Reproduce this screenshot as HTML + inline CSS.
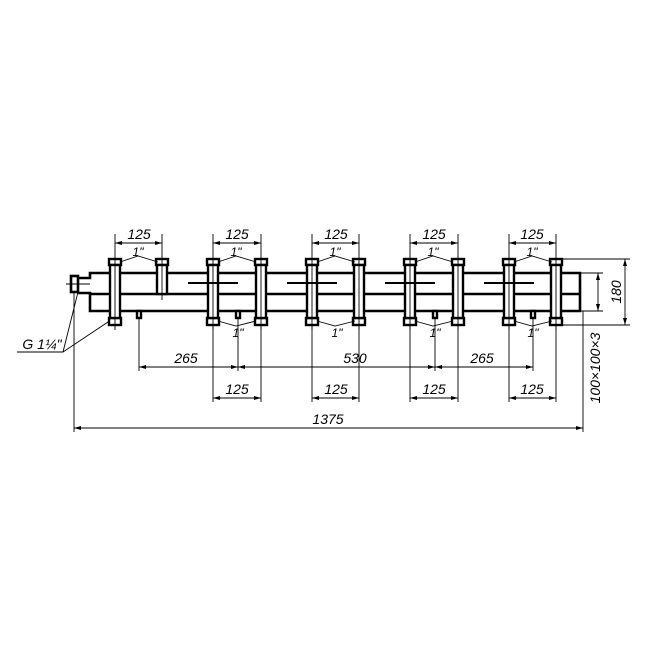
<!DOCTYPE html>
<html><head><style>html,body{margin:0;padding:0;background:#fff}svg{display:block}</style></head><body>
<svg width="650" height="650" viewBox="0 0 650 650" xmlns="http://www.w3.org/2000/svg" font-family="Liberation Sans, sans-serif" font-style="italic">
<rect width="650" height="650" fill="#fff"/>
<g fill="none" stroke="#000" stroke-width="2.6">
<path d="M78,278 H90 V273 H580 V311 H90 V293 H78"/>
<line x1="90" y1="294" x2="580" y2="294"/>
<rect x="71" y="276" width="7" height="16"/>
</g>
<g stroke="#000" fill="#fff" stroke-width="2.4">
<rect x="109" y="259" width="12" height="6"/><rect x="156" y="259" width="12" height="6"/>
<rect x="207" y="259" width="12" height="6"/><rect x="255" y="259" width="12" height="6"/>
<rect x="306" y="259" width="12" height="6"/><rect x="353" y="259" width="12" height="6"/>
<rect x="404" y="259" width="12" height="6"/><rect x="452" y="259" width="12" height="6"/>
<rect x="503" y="259" width="12" height="6"/><rect x="550" y="259" width="12" height="6"/>
<rect x="109" y="318" width="12" height="7"/>
<rect x="207" y="318" width="12" height="7"/><rect x="255" y="318" width="12" height="7"/>
<rect x="306" y="318" width="12" height="7"/><rect x="353" y="318" width="12" height="7"/>
<rect x="404" y="318" width="12" height="7"/><rect x="452" y="318" width="12" height="7"/>
<rect x="503" y="318" width="12" height="7"/><rect x="550" y="318" width="12" height="7"/>
</g>
<g stroke="#000" fill="#fff" stroke-width="2.4">
<rect x="110" y="265" width="10" height="53"/>
<rect x="157" y="265" width="10" height="29"/>
<rect x="208" y="265" width="10" height="53"/><rect x="256" y="265" width="10" height="53"/>
<rect x="307" y="265" width="10" height="53"/><rect x="354" y="265" width="10" height="53"/>
<rect x="405" y="265" width="10" height="53"/><rect x="453" y="265" width="10" height="53"/>
<rect x="504" y="265" width="10" height="53"/><rect x="551" y="265" width="10" height="53"/>
<rect x="137" y="311" width="4" height="7"/><rect x="236" y="311" width="4" height="7"/>
<rect x="433" y="311" width="4" height="7"/><rect x="531" y="311" width="4" height="7"/>
</g>
<g stroke="#000" stroke-width="2">
<line x1="188" y1="283" x2="238" y2="283"/><line x1="287" y1="283" x2="337" y2="283"/>
<line x1="385" y1="283" x2="435" y2="283"/><line x1="484" y1="283" x2="534" y2="283"/>
</g>
<g stroke="#000" stroke-width="0.9" fill="none">
<line x1="66" y1="284" x2="90" y2="284"/>
<path d="M115,234V330M162,234V300M115,243H162"/>
<path d="M213,234V330M261,234V330M213,243H261"/>
<path d="M312,234V330M359,234V330M312,243H359"/>
<path d="M410,234V330M458,234V330M410,243H458"/>
<path d="M509,234V330M556,234V330M509,243H556"/>
<path d="M120,262L138,256L158,262M218,262L236,256L256,262M317,262L335,256L355,262M415,262L433,256L453,262M514,262L532,256L552,262"/>
<path d="M218,321L236,326L256,321M317,321L335,326L355,321M415,321L433,326L453,321M514,321L532,326L552,321"/>
<path d="M139,318V371M238,318V371M435,318V371M533,318V371M139,367H533"/>
<path d="M213,325V402M261,325V402M312,325V402M359,325V402M410,325V402M458,325V402M509,325V402M556,325V402"/>
<path d="M213,398H261M312,398H359M410,398H458M509,398H556"/>
<path d="M74,292V432M583,311V432M74,428H583"/>
<path d="M562,259H630M562,325H630M625,259V325M580,273H603M580,311H603M598,273V311"/>
<path d="M17,352H63L78,292M63,352L108,322"/>
</g>
<g fill="#000">
<path d="M115,243l7,-2v4zM162,243l-7,-2v4zM213,243l7,-2v4zM261,243l-7,-2v4zM312,243l7,-2v4zM359,243l-7,-2v4zM410,243l7,-2v4zM458,243l-7,-2v4zM509,243l7,-2v4zM556,243l-7,-2v4z"/>
<path d="M139,367l7,-2v4zM238,367l-7,-2v4zM238,367l7,-2v4zM435,367l-7,-2v4zM435,367l7,-2v4zM533,367l-7,-2v4z"/>
<path d="M213,398l7,-2v4zM261,398l-7,-2v4zM312,398l7,-2v4zM359,398l-7,-2v4zM410,398l7,-2v4zM458,398l-7,-2v4zM509,398l7,-2v4zM556,398l-7,-2v4z"/>
<path d="M74,428l7,-2v4zM583,428l-7,-2v4z"/>
<path d="M625,259l-2,7h4zM625,325l-2,-7h4zM598,273l-2,7h4zM598,311l-2,-7h4z"/>
</g>
<g font-size="14" fill="#000" text-anchor="middle">
<text x="139" y="239">125</text><text x="237" y="239">125</text><text x="336" y="239">125</text><text x="434" y="239">125</text><text x="532" y="239">125</text>
<text x="138" y="256" font-size="12">1"</text><text x="236" y="256" font-size="12">1"</text><text x="335" y="256" font-size="12">1"</text><text x="433" y="256" font-size="12">1"</text><text x="532" y="256" font-size="12">1"</text>
<text x="238" y="337" font-size="12">1"</text><text x="337" y="337" font-size="12">1"</text><text x="435" y="337" font-size="12">1"</text><text x="533" y="337" font-size="12">1"</text>
<text x="186" y="363">265</text><text x="355" y="363">530</text><text x="482" y="363">265</text>
<text x="237" y="394">125</text><text x="336" y="394">125</text><text x="434" y="394">125</text><text x="532" y="394">125</text>
<text x="328" y="424">1375</text>
<text transform="translate(621,292) rotate(-90)">180</text>
<text transform="translate(600,368) rotate(-90)">100×100×3</text>
<text x="42" y="349" font-size="14">G 1¼"</text>
</g>
</svg>
</body></html>
